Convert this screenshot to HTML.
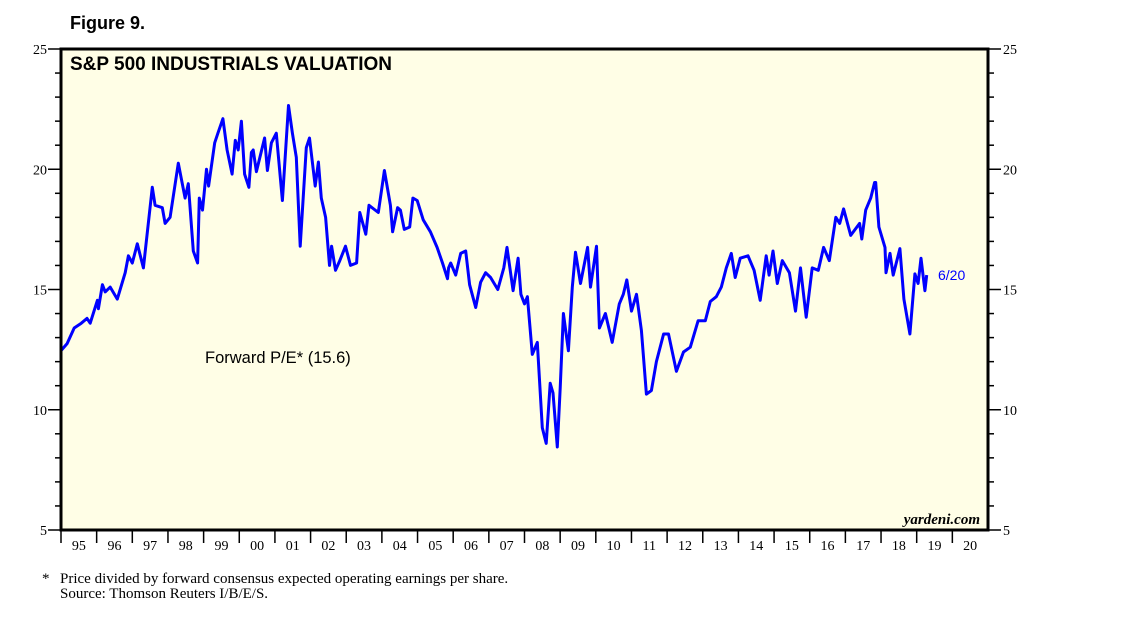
<!DOCTYPE html>
<html><head><meta charset="utf-8"><style>
body{margin:0;background:#fff;width:1138px;height:621px;overflow:hidden}
svg{display:block}
</style></head><body>
<svg id="chart" width="1138" height="621" xmlns="http://www.w3.org/2000/svg">
<text x="70" y="29" font-family="Liberation Sans, sans-serif" font-weight="bold" font-size="18" fill="#000">Figure 9.</text>
<rect x="61" y="49" width="927" height="481" fill="#fffee6"/>
<g id="ticks"></g>
<path id="line" fill="none" stroke="#0000ff" stroke-width="3" stroke-linejoin="round"/>
<rect x="61" y="49" width="927" height="481" fill="none" stroke="#000" stroke-width="3"/>
<text x="70" y="70" font-family="Liberation Sans, sans-serif" font-weight="bold" font-size="19" fill="#000">S&amp;P 500 INDUSTRIALS VALUATION</text>
<text x="205" y="363" font-family="Liberation Sans, sans-serif" font-size="16.5" fill="#000">Forward P/E* (15.6)</text>
<text x="938" y="280" font-family="Liberation Sans, sans-serif" font-size="14" fill="#0000ff">6/20</text>
<text x="980" y="524" text-anchor="end" font-family="Liberation Serif, serif" font-style="italic" font-weight="bold" font-size="15" fill="#000">yardeni.com</text>
<text x="42" y="583" font-family="Liberation Serif, serif" font-size="15" fill="#000">*</text>
<text x="60" y="583" font-family="Liberation Serif, serif" font-size="15" fill="#000">Price divided by forward consensus expected operating earnings per share.</text>
<text x="60" y="598" font-family="Liberation Serif, serif" font-size="15" fill="#000">Source: Thomson Reuters I/B/E/S.</text>
</svg>
<script>
const dates=[1995.0,1995.17,1995.37,1995.57,1995.73,1995.82,1996.02,1996.05,1996.16,1996.24,1996.38,1996.58,1996.8,1996.89,1997.0,1997.14,1997.31,1997.56,1997.64,1997.84,1997.92,1998.06,1998.29,1998.48,1998.57,1998.71,1998.83,1998.88,1998.97,1999.08,1999.14,1999.31,1999.4,1999.54,1999.66,1999.8,1999.89,1999.97,2000.06,2000.15,2000.27,2000.34,2000.39,2000.48,2000.71,2000.79,2000.9,2001.04,2001.21,2001.38,2001.49,2001.6,2001.71,2001.88,2001.97,2002.13,2002.22,2002.3,2002.42,2002.53,2002.59,2002.7,2002.82,2002.98,2003.12,2003.29,2003.38,2003.55,2003.64,2003.9,2004.07,2004.24,2004.3,2004.44,2004.52,2004.63,2004.78,2004.87,2004.99,2005.16,2005.36,2005.55,2005.7,2005.84,2005.87,2005.93,2006.07,2006.21,2006.35,2006.46,2006.63,2006.77,2006.91,2007.05,2007.25,2007.42,2007.51,2007.68,2007.82,2007.9,2008.0,2008.08,2008.22,2008.36,2008.5,2008.61,2008.72,2008.8,2008.92,2009.0,2009.09,2009.23,2009.34,2009.43,2009.57,2009.77,2009.85,2010.02,2010.1,2010.27,2010.46,2010.66,2010.77,2010.87,2011.0,2011.14,2011.28,2011.42,2011.56,2011.7,2011.9,2012.04,2012.26,2012.46,2012.65,2012.87,2013.07,2013.21,2013.38,2013.52,2013.66,2013.8,2013.91,2014.05,2014.27,2014.44,2014.61,2014.78,2014.86,2014.97,2015.09,2015.23,2015.43,2015.6,2015.74,2015.9,2016.07,2016.24,2016.39,2016.55,2016.73,2016.84,2016.95,2017.15,2017.4,2017.46,2017.57,2017.71,2017.82,2017.85,2017.94,2018.11,2018.14,2018.25,2018.34,2018.53,2018.64,2018.81,2018.95,2019.04,2019.12,2019.23,2019.28,2019.34];
const values=[12.46,12.75,13.4,13.6,13.8,13.6,14.55,14.2,15.2,14.9,15.1,14.6,15.7,16.4,16.1,16.9,15.9,19.25,18.5,18.4,17.75,18.0,20.25,18.8,19.4,16.6,16.1,18.8,18.3,20.0,19.3,21.1,21.5,22.1,20.8,19.8,21.2,20.8,22.0,19.8,19.25,20.7,20.8,19.9,21.3,19.95,21.1,21.5,18.7,22.65,21.5,20.5,16.8,20.9,21.3,19.3,20.3,18.8,18.0,16.0,16.8,15.8,16.2,16.8,16.0,16.1,18.2,17.3,18.5,18.2,19.95,18.5,17.4,18.4,18.3,17.5,17.6,18.8,18.7,17.9,17.4,16.75,16.1,15.45,15.9,16.1,15.6,16.5,16.6,15.2,14.25,15.3,15.7,15.5,15.0,15.9,16.75,14.95,16.3,14.8,14.4,14.7,12.3,12.8,9.25,8.6,11.1,10.7,8.45,10.9,14.0,12.45,15.1,16.55,15.25,16.75,15.1,16.8,13.4,14.0,12.8,14.4,14.8,15.4,14.1,14.8,13.3,10.65,10.8,12.0,13.15,13.15,11.6,12.4,12.6,13.7,13.7,14.5,14.7,15.1,15.9,16.5,15.5,16.3,16.4,15.8,14.55,16.4,15.6,16.6,15.25,16.2,15.7,14.1,15.9,13.85,15.9,15.8,16.75,16.2,18.0,17.75,18.35,17.25,17.75,17.1,18.3,18.8,19.45,19.45,17.6,16.75,15.7,16.5,15.6,16.7,14.6,13.15,15.65,15.25,16.3,14.95,15.6];
const yTicks=[5,10,15,20,25];
const xYears=["95","96","97","98","99","00","01","02","03","04","05","06","07","08","09","10","11","12","13","14","15","16","17","18","19","20"];
const X0=61,X1=988,Y0=530,Y1=49,T0=1995,T1=2021,V0=5,V1=25;
function xs(t){return X0+(t-T0)/(T1-T0)*(X1-X0);}
function ys(v){return Y0-(v-V0)/(V1-V0)*(Y0-Y1);}
const NS="http://www.w3.org/2000/svg";
const g=document.getElementById('ticks');
function ln(x1,y1,x2,y2,name){const l=document.createElementNS(NS,'line');l.setAttribute('x1',x1);l.setAttribute('y1',y1);l.setAttribute('x2',x2);l.setAttribute('y2',y2);l.setAttribute('stroke','#000');l.setAttribute('stroke-width','1.5');


g.appendChild(l);}
function tx(x,y,s,anchor,name){const t=document.createElementNS(NS,'text');t.setAttribute('x',x);t.setAttribute('y',y);t.setAttribute('text-anchor',anchor);t.setAttribute('font-family','Liberation Serif, serif');t.setAttribute('font-size','14');t.textContent=s;


g.appendChild(t);}
for(let v=V0;v<=V1;v++){const y=ys(v);const major=v%5===0;
ln(X0-(major?13:6),y,X0,y,'y-tick-left');
ln(X1,y,X1+(major?13:6),y,'y-tick-right');}
yTicks.forEach(v=>{tx(47,ys(v)+5,String(v),'end','y-tick-label-left');tx(1003,ys(v)+5,String(v),'start','y-tick-label-right');});
xYears.forEach((s,i)=>{const t=T0+i;
if(i>0)ln(xs(t),Y0,xs(t),Y0+13,'x-tick');
tx(xs(t+0.5),Y0+20,s,'middle','x-tick-label');});
ln(xs(T0),Y0,xs(T0),Y0+13,'x-tick');
let d='';dates.forEach((t,i)=>{d+=(i?'L':'M')+xs(t).toFixed(1)+','+ys(values[i]).toFixed(1);});
document.getElementById('line').setAttribute('d',d);
</script>
</body></html>
